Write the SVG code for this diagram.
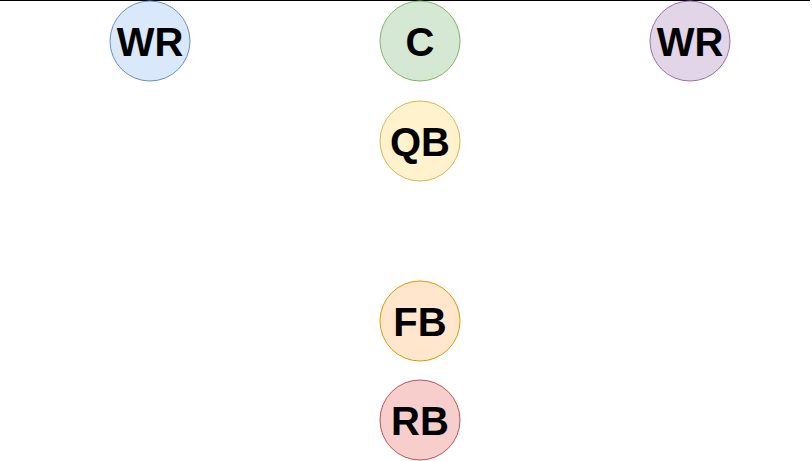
<svg xmlns="http://www.w3.org/2000/svg" width="812" height="461" viewBox="0 0 812 461">
<style>
.n{stroke-width:1}
.t{font-family:"Liberation Sans",Arial,sans-serif;font-weight:bold;font-size:40px;text-anchor:middle;dominant-baseline:central;fill:#000}
</style>
<rect width="812" height="461" fill="#fff"/>
<g id="connectors">
<line x1="0" y1="0.5" x2="810" y2="0.5" stroke="#000" stroke-width="1.2"/>
</g>
<g id="wr-left"><circle class="n" cx="150" cy="41" r="40" fill="#dae8fc" stroke="#6c8ebf"/><text class="t" x="150" y="42">WR</text></g>
<g id="c"><circle class="n" cx="420" cy="41" r="40" fill="#d5e8d4" stroke="#82b366"/><text class="t" x="420" y="42">C</text></g>
<g id="wr-right"><circle class="n" cx="690" cy="41" r="40" fill="#e1d5e7" stroke="#9673a6"/><text class="t" x="690" y="42">WR</text></g>
<g id="qb"><circle class="n" cx="420" cy="141" r="40" fill="#fff2cc" stroke="#d6b656"/><text class="t" x="420" y="142">QB</text></g>
<g id="fb"><circle class="n" cx="420" cy="321" r="40" fill="#ffe6cc" stroke="#d79b00"/><text class="t" x="420" y="322">FB</text></g>
<g id="rb"><circle class="n" cx="420" cy="420" r="40" fill="#f8cecc" stroke="#b85450"/><text class="t" x="420" y="421">RB</text></g>
</svg>
